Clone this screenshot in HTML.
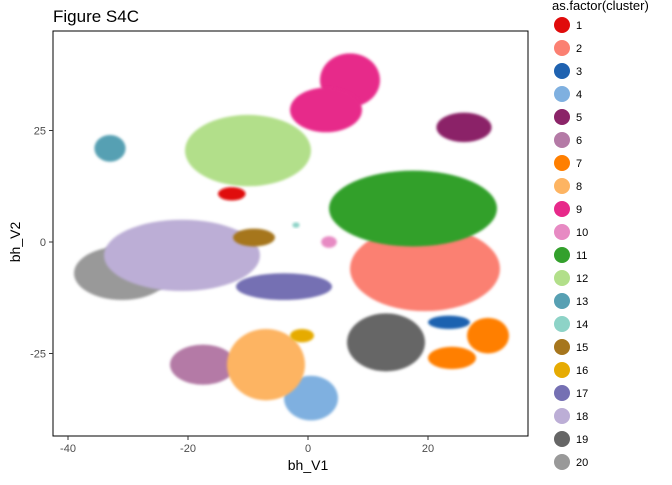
<!DOCTYPE html>
<html><head><meta charset="utf-8"><style>
body{margin:0;background:#fff;font-family:"Liberation Sans",sans-serif}
svg text{font-family:"Liberation Sans",sans-serif}
</style></head><body>
<svg id="c" width="672" height="480" xmlns="http://www.w3.org/2000/svg">
<defs><filter id="blur" x="-20%" y="-20%" width="140%" height="140%"><feGaussianBlur stdDeviation="1.2"/></filter></defs>
<text x="53" y="22" font-size="17" fill="#000">Figure S4C</text>
<g id="plot"></g>
<rect x="53" y="31" width="475" height="405" fill="none" stroke="#000" stroke-width="1"/>
<g id="axes"></g>
<text x="308" y="470" font-size="14" text-anchor="middle">bh_V1</text>
<text x="20" y="242" font-size="14" text-anchor="middle" transform="rotate(-90 20 242)">bh_V2</text>
<text x="552" y="10" font-size="13">as.factor(cluster)</text>
<g id="legend"></g>
</svg>
<script>
const clusters=["1","2","3","4","5","6","7","8","9","9","10","11","12","13","14","15","16","17","18","19","20","7"];
const cx=[-12.7,19.5,23.5,0.5,26,-17.5,30,-7,7,3,3.5,17.5,-10,-33,-2,-9,-1,-4,-21,13,-31,24];
const cy=[10.8,-6,-18,-35,25.7,-27.5,-21,-27.5,36.3,29.6,0,7.5,20.5,21,3.8,1,-21,-10,-3,-22.5,-7,-26];
const rx=[2.3,12.5,3.5,4.5,4.6,5.5,3.5,6.5,5,6,1.3,14,10.5,2.6,0.6,3.5,2,8,13,6.5,8,4];
const ry=[1.5,9.5,1.5,5,3.3,4.5,4,8,6,5,1.3,8.5,8,3,0.6,2,1.5,3,8,6.5,6,2.5];
const order=[20,18,0,1,2,3,4,5,6,21,7,8,9,10,11,12,13,14,15,16,17,19];
const legendLabels=["1","2","3","4","5","6","7","8","9","10","11","12","13","14","15","16","17","18","19","20"];
const colors=["#e00b0b","#fb8072","#1f62b0","#7fb0e0","#8b2468","#b47aa6","#ff7f00","#fdb462","#e7298a","#e78ac3","#33a02c","#b2df8a","#57a0b3","#8dd3c7","#a6761d","#e6ab02","#7570b3","#bcaed6","#666666","#999999"];
const xTicks=[-40,-20,0,20], yTicks=[-25,0,25];
const X=v=>308+v*6, Y=v=>242-v*4.46;
const NS="http://www.w3.org/2000/svg";
const plot=document.getElementById('plot'),axes=document.getElementById('axes'),leg=document.getElementById('legend');
function mk(t,a,p){const e=document.createElementNS(NS,t);for(const k in a)e.setAttribute(k,a[k]);p.appendChild(e);return e;}
order.forEach(i=>{
  const col=colors[legendLabels.indexOf(clusters[i])];
  const e=mk('ellipse',{cx:X(cx[i]),cy:Y(cy[i]),rx:rx[i]*6,ry:ry[i]*4.46,fill:col,filter:'url(#blur)'},plot);
  
  
});
xTicks.forEach(v=>{
  mk('line',{x1:X(v),x2:X(v),y1:436,y2:440,stroke:'#333'},axes);
  const t=mk('text',{x:X(v),y:452,'font-size':11,'text-anchor':'middle',fill:'#4d4d4d'},axes);t.textContent=v;
  
  
});
yTicks.forEach(v=>{
  mk('line',{x1:49,x2:53,y1:Y(v),y2:Y(v),stroke:'#333'},axes);
  const t=mk('text',{x:46,y:Y(v)+4,'font-size':11,'text-anchor':'end',fill:'#4d4d4d'},axes);t.textContent=v;
  
  
});
legendLabels.forEach((l,i)=>{
  const y=25+i*23;
  const g=mk('g',{},leg);
  
  
  mk('circle',{cx:562,cy:y,r:8,fill:colors[i]},g);
  const t=mk('text',{x:576,y:y+4,'font-size':11},g);t.textContent=l;
});
</script>
</body></html>
